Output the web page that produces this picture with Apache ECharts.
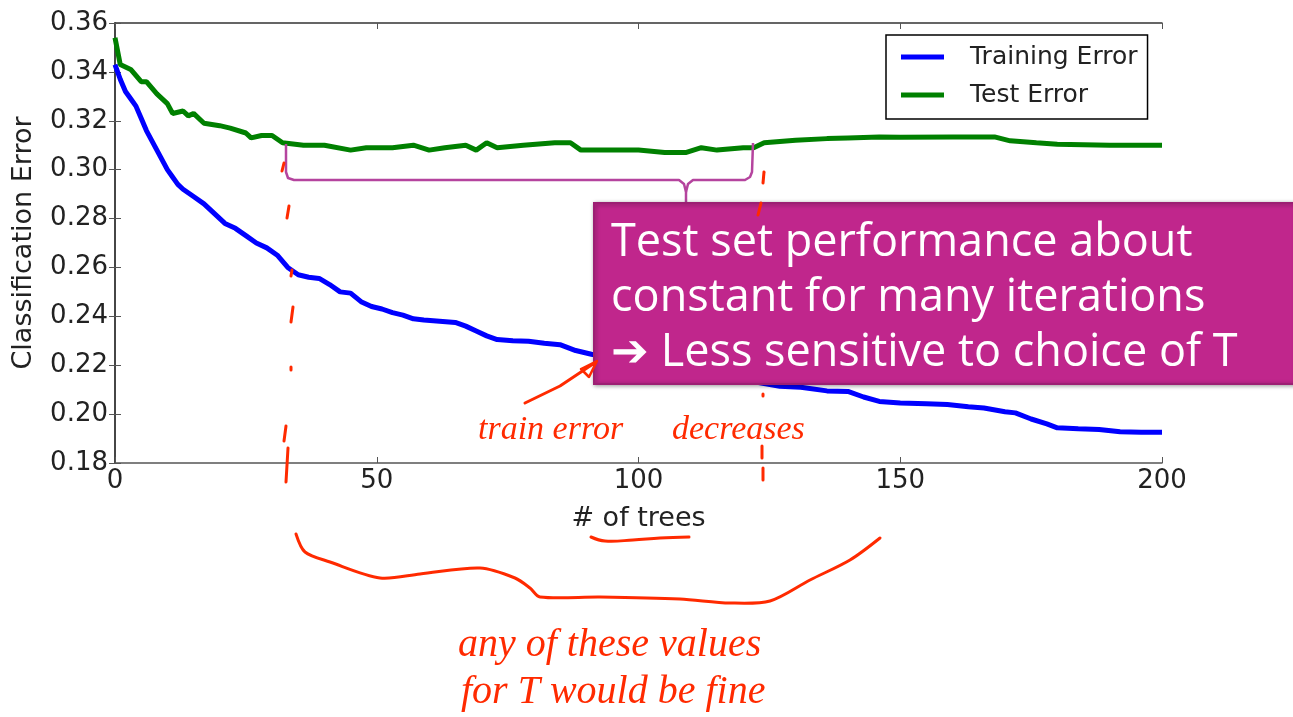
<!DOCTYPE html>
<html>
<head>
<meta charset="utf-8">
<script src="https://cdn.jsdelivr.net/npm/echarts@6/dist/echarts.min.js"></script>
<style>html,body{margin:0;padding:0;background:#fff;}#c{width:1293px;height:717px;}</style>
</head>
<body>
<div id="c"></div>
<script>
// ---- data ----
const trainTrees = [0,1,2,3,4,5,6,7,8,9,10,11,12,13,15,17,19,21,23,25,27,29,31,33,35,37,39,41,43,45,47,49,51,53,55,57,59,62,65,67,69,71,73,76,79,82,85,88,91,95,100,105,110,115,120,124,127,131,136,140,143,146,150,155,159,163,166,170,172,175,178,180,184,188,192,196,200];
const trainError = [0.343,0.337,0.332,0.329,0.326,0.321,0.316,0.312,0.308,0.304,0.300,0.297,0.294,0.292,0.289,0.286,0.282,0.278,0.276,0.273,0.270,0.268,0.265,0.260,0.257,0.256,0.2555,0.253,0.250,0.2495,0.246,0.244,0.243,0.2415,0.2405,0.239,0.2385,0.238,0.2375,0.236,0.234,0.232,0.2305,0.230,0.2298,0.229,0.2284,0.226,0.2245,0.223,0.222,0.220,0.218,0.216,0.214,0.2125,0.2114,0.211,0.2095,0.2093,0.207,0.2052,0.2045,0.2042,0.2039,0.203,0.2025,0.201,0.2005,0.198,0.196,0.1944,0.194,0.1937,0.1928,0.1926,0.1926];
const testTrees = [0,1,3,5,6,8,10,11,13,14,15,17,20,22,25,26,28,30,32,36,40,45,48,50,53,57,60,63,67,69,71,73,78,84,87,89,95,100,105,109,112,115,120,122,124,130,136,140,146,150,160,168,171,176,180,190,200];
const testError = [0.354,0.343,0.341,0.336,0.336,0.331,0.327,0.323,0.324,0.322,0.323,0.319,0.318,0.317,0.315,0.313,0.314,0.314,0.311,0.310,0.310,0.308,0.309,0.309,0.309,0.310,0.308,0.309,0.310,0.308,0.311,0.309,0.310,0.311,0.311,0.308,0.308,0.308,0.307,0.307,0.309,0.308,0.309,0.309,0.311,0.312,0.3127,0.313,0.3134,0.3133,0.3134,0.3134,0.3118,0.311,0.3104,0.310,0.310];
const seriesNames = ['Training Error','Test Error'];
const xTicks = {min:0, max:200, step:50};
const yTicks = {min:0.18, max:0.36, step:0.02};
const boxLines = ['Test set performance about','constant for many iterations','\u2794 Less sensitive to choice of T'];
const noteTrain = ['train error','decreases'];
const noteAny = ['any of these values','for T would be fine'];

const chart = echarts.init(document.getElementById('c'));
const axisCol = '#555';
const red = '#FF2A00';
const hand = 'italic 34px "Liberation Serif"';

function seg(pts, w, smooth){ return {type:'polyline', z:100, shape:{points:pts, smooth:smooth||0}, style:{stroke:red, lineWidth:w||3, fill:null, lineCap:'round', lineJoin:'round'}}; }
function mag(pts){ return {type:'polyline', z:90, shape:{points:pts}, style:{stroke:'#B5449E', lineWidth:2.5, fill:null, lineJoin:'round'}}; }

const graphics = [
  mag([[286,144],[286,172],[288,178],[294,180],[679,180],[684,184],[686,192],[686,203]]),
  mag([[686,192],[688,184],[693,180],[745,180],[750,177],[752,172],[753,143]]),
  {type:'rect', z:95, shape:{x:594,y:203,width:702,height:181}, style:{fill:'#C0268C', stroke:'#9C1F73', lineWidth:2, shadowBlur:4, shadowColor:'rgba(0,0,0,0.35)', shadowOffsetX:1, shadowOffsetY:1}}
];
boxLines.forEach((t,i)=>{
  graphics.push({type:'text', z:96, style:{text:t, x:611, y:243+i*55, fill:'#fff', font:'45px "Open Sans"', verticalAlign:'middle', align:'left'}});
});
[
  [[284,163],[282,171]],[[289,206],[287,218]],[[292,270],[291,276]],[[293,307],[291,322]],[[291,367],[291,370]],[[286,426],[284,441]],[[288,448],[286,482]],
  [[764,172],[763,183]],[[761,203],[758,215]],[[763,394],[763,396]],[[762,446],[762,458]],[[763,468],[763,480]]
].forEach(p=>graphics.push(seg(p,3)));
graphics.push(seg([[525,403],[560,386],[593,364]],3));
graphics.push(seg([[581,369],[597,361],[589,377],[581,369]],2.5));
graphics.push(seg([[591,537],[605,541],[633,540],[660,538],[689,537]],3,0.4));
graphics.push(seg([[296,534],[305,552],[330,562],[380,578],[420,574],[480,568],[515,578],[530,588],[540,597],[600,597],[680,599],[730,603],[770,601],[810,580],[850,560],[880,538]],3,0.3));
graphics.push({type:'text', z:100, style:{text:noteTrain[0], x:478, y:430, fill:red, font:hand, verticalAlign:'middle'}});
graphics.push({type:'text', z:100, style:{text:noteTrain[1], x:672, y:430, fill:red, font:hand, verticalAlign:'middle'}});
graphics.push({type:'text', z:100, style:{text:noteAny[0], x:458, y:645, fill:red, font:'italic 40px "Liberation Serif"', verticalAlign:'middle'}});
graphics.push({type:'text', z:100, style:{text:noteAny[1], x:461, y:692, fill:red, font:'italic 40px "Liberation Serif"', verticalAlign:'middle'}});

const tickFont = {fontFamily:'DejaVu Sans', fontSize:26, color:'#222'};
const option = {
  animation:false,
  backgroundColor:'#fff',
  grid:{left:115, right:131, top:23, bottom:254, show:false},
  legend:{
    data:seriesNames, orient:'vertical', left:886, top:35,
    icon:'rect', itemWidth:43, itemHeight:5, itemGap:10,
    padding:[8,10,10,15], borderColor:'#000', borderWidth:1.5, backgroundColor:'#fff',
    textStyle:{fontFamily:'DejaVu Sans', fontSize:25, color:'#222', lineHeight:28, padding:[0,0,0,21]}
  },
  xAxis:[
    {type:'value', min:xTicks.min, max:xTicks.max, interval:xTicks.step, name:'# of trees', nameLocation:'middle', nameGap:42,
     nameTextStyle:{fontFamily:'DejaVu Sans', fontSize:27, color:'#222'},
     axisLine:{lineStyle:{color:axisCol, width:1.5}}, axisTick:{inside:true, length:6, lineStyle:{color:axisCol}},
     axisLabel:Object.assign({margin:5}, tickFont), splitLine:{show:false}},
    {type:'value', position:'top', min:xTicks.min, max:xTicks.max, interval:xTicks.step,
     axisLine:{lineStyle:{color:'#333', width:1.5}}, axisTick:{inside:true, length:6, lineStyle:{color:axisCol}},
     axisLabel:{show:false}, splitLine:{show:false}}
  ],
  yAxis:[
    {type:'value', min:yTicks.min, max:yTicks.max, interval:yTicks.step, name:'Classification Error', nameLocation:'middle', nameGap:78,
     nameTextStyle:{fontFamily:'DejaVu Sans', fontSize:27, color:'#222'},
     axisLine:{show:true, lineStyle:{color:axisCol, width:1.5}}, axisTick:{show:true, inside:true, length:6, lineStyle:{color:axisCol}},
     axisLabel:Object.assign({margin:7, formatter:v=>v.toFixed(2)}, tickFont), splitLine:{show:false}},
    {type:'value', position:'right', min:yTicks.min, max:yTicks.max, interval:yTicks.step,
     axisLine:{show:true, lineStyle:{color:'#333', width:1.5}}, axisTick:{show:true, inside:true, length:6, lineStyle:{color:axisCol}},
     axisLabel:{show:false}, splitLine:{show:false}}
  ],
  series:[
    {name:seriesNames[0], type:'line', showSymbol:false, symbol:'none', data:trainTrees.map((t,i)=>[t,trainError[i]]),
     lineStyle:{color:'#0000FF', width:5}, itemStyle:{color:'#0000FF'}, z:3},
    {name:seriesNames[1], type:'line', showSymbol:false, symbol:'none', data:testTrees.map((t,i)=>[t,testError[i]]),
     lineStyle:{color:'#008000', width:5}, itemStyle:{color:'#008000'}, z:4}
  ],
  graphic:graphics
};
chart.setOption(option);
</script>
</body>
</html>
